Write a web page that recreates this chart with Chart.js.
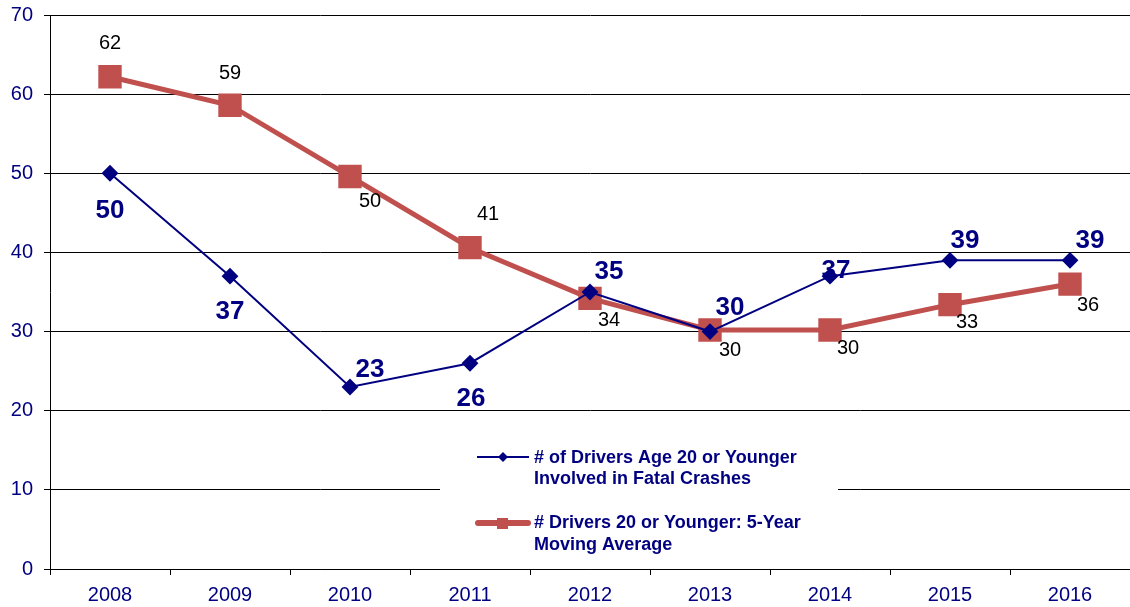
<!DOCTYPE html>
<html>
<head>
<meta charset="utf-8">
<script src="https://cdn.jsdelivr.net/npm/chart.js@4/dist/chart.umd.min.js"></script>
<style>
  html, body { margin: 0; padding: 0; background: #fff; }
  #box { width: 1130px; height: 607px; overflow: hidden; }
</style>
</head>
<body>
<div id="box"><canvas id="grafico" width="1130" height="607"></canvas></div>
<script>
// Dados
const years = ["2008", "2009", "2010", "2011", "2012", "2013", "2014", "2015", "2016"];
const drivers = [50, 37, 23, 26, 35, 30, 37, 39, 39];
const movingAvg = [62.2, 58.6, 49.6, 40.6, 34.2, 30.2, 30.2, 33.4, 36.0];
const yTicks = [0, 10, 20, 30, 40, 50, 60, 70];
const legendNames = [
  ["# of Drivers Age 20 or Younger", "Involved in Fatal Crashes"],
  ["# Drivers 20 or Younger: 5-Year", "Moving Average"]
];

// Cores e fontes
const navy = "#000080";
const red = "#C0504D";
const fam = "'Liberation Sans', Arial, sans-serif";

// Deslocamento dos rotulos (px) em relacao ao ponto
const driversLabelPos = [[0, 38], [0, 36], [20, -17], [1, 36], [19, -20], [20, -24], [6, -5], [15, -20], [20, -20]];
const avgLabelPos = [[0, -33], [0, -32], [20, 25], [18, -33], [19, 22], [20, 20], [18, 18], [17, 18], [18, 21]];

// Rotulos dos pontos
const pointLabels = {
  id: "pointLabels",
  afterDatasetsDraw(chart) {
    const ctx = chart.ctx;
    ctx.save();
    ctx.textAlign = "center";
    ctx.textBaseline = "middle";
    chart.getDatasetMeta(1).data.forEach((pt, i) => {
      ctx.font = "20px " + fam;
      ctx.fillStyle = "#000";
      ctx.fillText(Math.round(movingAvg[i]), pt.x + avgLabelPos[i][0], pt.y + avgLabelPos[i][1]);
    });
    chart.getDatasetMeta(0).data.forEach((pt, i) => {
      ctx.font = "bold 26px " + fam;
      ctx.fillStyle = navy;
      ctx.fillText(drivers[i], pt.x + driversLabelPos[i][0], pt.y + driversLabelPos[i][1]);
    });
    ctx.restore();
  }
};

// Legenda dentro do grafico
const innerLegend = {
  id: "innerLegend",
  afterDraw(chart) {
    const ctx = chart.ctx;
    ctx.save();
    ctx.fillStyle = "#fff";
    ctx.fillRect(440, 422, 398, 142);

    // serie 1
    ctx.strokeStyle = navy;
    ctx.lineWidth = 2;
    ctx.beginPath();
    ctx.moveTo(477, 457);
    ctx.lineTo(529, 457);
    ctx.stroke();
    ctx.fillStyle = navy;
    ctx.beginPath();
    ctx.moveTo(503, 452); ctx.lineTo(508, 457); ctx.lineTo(503, 462); ctx.lineTo(498, 457);
    ctx.closePath();
    ctx.fill();

    // serie 2
    ctx.strokeStyle = red;
    ctx.lineWidth = 6;
    ctx.lineCap = "round";
    ctx.beginPath();
    ctx.moveTo(478, 523);
    ctx.lineTo(528, 523);
    ctx.stroke();
    ctx.fillStyle = red;
    ctx.fillRect(497, 518, 11, 11);

    ctx.font = "bold 18px " + fam;
    ctx.fillStyle = navy;
    ctx.textAlign = "left";
    ctx.textBaseline = "middle";
    ctx.fillText(legendNames[0][0], 534, 458);
    ctx.fillText(legendNames[0][1], 534, 479);
    ctx.fillText(legendNames[1][0], 534, 523);
    ctx.fillText(legendNames[1][1], 534, 545);
    ctx.restore();
  }
};

const MyChart = new Chart("grafico", {
  type: "line",
  data: {
    labels: years,
    datasets: [{
      label: legendNames[0].join(" "),
      data: drivers,
      borderColor: navy,
      backgroundColor: navy,
      borderWidth: 2,
      pointStyle: "rectRot",
      pointRadius: 7,
      pointHoverRadius: 7,
      tension: 0
    }, {
      label: legendNames[1].join(" "),
      data: movingAvg,
      borderColor: red,
      backgroundColor: red,
      borderWidth: 5,
      pointStyle: "rect",
      pointRadius: 13,
      pointHoverRadius: 13,
      tension: 0
    }]
  },
  options: {
    responsive: false,
    animation: false,
    layout: { autoPadding: false, padding: { top: 15, right: -6, left: 0, bottom: 0 } },
    plugins: {
      legend: { display: false },
      tooltip: { enabled: false }
    },
    scales: {
      x: {
        offset: true,
        grid: {
          offset: true,
          drawOnChartArea: false,
          drawTicks: true,
          tickLength: 6,
          color: "#000"
        },
        border: { color: "#000", width: 1 },
        ticks: {
          color: navy,
          font: { family: fam, size: 20 },
          padding: 8
        },
        afterFit(scale) {
          scale.height = 38;
          scale.paddingLeft = 0;
          scale.paddingRight = -6;
        }
      },
      y: {
        min: 0,
        max: 70,
        afterBuildTicks(scale) { scale.ticks = yTicks.map(v => ({ value: v })); },
        grid: {
          color: "#000",
          lineWidth: 1,
          drawTicks: true,
          tickLength: 6
        },
        border: { color: "#000", width: 1 },
        ticks: {
          color: navy,
          font: { family: fam, size: 20 },
          padding: 11
        },
        afterFit(scale) {
          scale.width = 50;
          scale.paddingTop = 0;
          scale.paddingBottom = 0;
        }
      }
    }
  },
  plugins: [pointLabels, innerLegend]
});
</script>
</body>
</html>
